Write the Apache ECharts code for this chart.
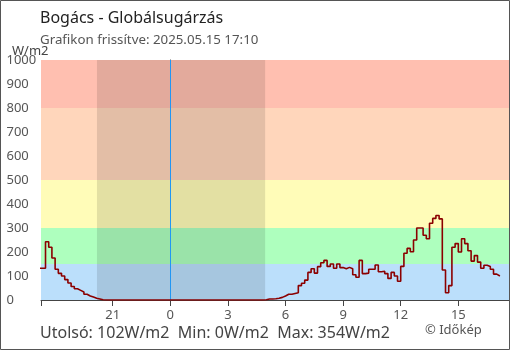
<!DOCTYPE html>
<html>
<head>
<meta charset="utf-8">
<script src="https://cdn.jsdelivr.net/npm/echarts@6/dist/echarts.min.js"></script>
<style>
html,body{margin:0;padding:0;background:#fff;}
#c{width:510px;height:350px;}
</style>
</head>
<body>
<div id="c"></div>
<script>
// ---- data (hours relative to midnight of 2025.05.15; first sample 17:10 previous day, 10-minute steps) ----
const startHour = -6 - 50 / 60;       // 17:10 on the previous day
const stepHours = 10 / 60;            // 10 minutes
const radiation = [
  132,132,243,220,175,128,111,100,85,71,
  56,47,40,33,24,17,12,7,4,1,
  0,0,0,0,0,0,0,0,0,0,
  0,0,0,0,0,0,0,0,0,0,
  0,0,0,0,0,0,0,0,0,0,
  0,0,0,0,0,0,0,0,0,0,
  0,0,0,0,0,0,0,0,0,0,
  1,4,4,5,7,11,17,24,24,27,
  30,60,70,83,115,130,112,139,155,165,
  140,150,132,150,135,130,136,130,105,95,
  165,110,112,128,128,146,118,120,110,90,
  115,100,78,140,195,215,201,250,300,300,
  270,255,320,340,352,338,125,30,60,220,
  235,200,255,235,205,162,185,158,132,145,
  140,128,108,100,102
];
const xTickHours = [-3, 0, 3, 6, 9, 12, 15];
const yTicks = [0, 100, 200, 300, 400, 500, 600, 700, 800, 900, 1000];
const bandLimits = [0, 150, 300, 500, 800, 1000];
const bandColors = ['#bbdffb', '#aeffbe', '#fffcb8', '#ffd6bb', '#ffbfb0'];
const sunset = -3.82;   // ~20:11
const sunrise = 4.94;   // ~04:56
const xMin = -6.735, xMax = 17.64;
const titleText = 'Bogács - Globálsugárzás';
const subText = 'Grafikon frissítve: 2025.05.15 17:10';
const unitText = 'W/m2';
const footerText = 'Utolsó: 102W/m2  Min: 0W/m2  Max: 354W/m2';
const creditText = '© Időkép';

const seriesData = radiation.map((v, i) => [startHour + i * stepHours, v]);
const FONT = '"Noto Sans", "Open Sans", sans-serif';

const chart = echarts.init(document.getElementById('c'), null, {renderer: 'canvas'});
const bands = [];
for (let i = 0; i < bandColors.length; i++) {
  bands.push([{xAxis: xMin, yAxis: bandLimits[i], itemStyle: {color: bandColors[i]}}, {xAxis: xMax, yAxis: bandLimits[i + 1]}]);
}
const tickValsX = [xMin].concat(xTickHours);
const axisCommonX = {
  type: 'value', min: xMin, max: xMax, splitLine: {show: false}
};
chart.setOption({
  animation: false,
  grid: {left: 41, right: 1, top: 60, bottom: 50, containLabel: false},
  xAxis: [
    Object.assign({}, axisCommonX, {
      axisLine: {lineStyle: {color: '#444', width: 1}},
      axisTick: {show: true, inside: false, length: 6, customValues: tickValsX, lineStyle: {color: '#444'}},
      axisLabel: {customValues: xTickHours, margin: 9, color: '#555', fontSize: 13, fontFamily: FONT,
        formatter: v => String((Math.round(v) + 24) % 24)}
    }),
    Object.assign({}, axisCommonX, {
      position: 'bottom',
      axisLine: {show: false},
      axisTick: {show: true, inside: true, length: 6, customValues: tickValsX, lineStyle: {color: '#444'}},
      axisLabel: {show: false}
    })
  ],
  yAxis: [
    {type: 'value', min: 0, max: 1000, interval: 100, splitLine: {show: false},
      axisLine: {show: true, lineStyle: {color: '#444'}},
      axisTick: {show: true, inside: false, length: 6, lineStyle: {color: '#444'}},
      axisLabel: {align: 'left', margin: 34.5, color: '#555', fontSize: 13, fontFamily: FONT,
        formatter: v => String(v)}
    },
    {type: 'value', min: 0, max: 1000, interval: 100, position: 'left', splitLine: {show: false},
      axisLine: {show: false},
      axisTick: {show: true, inside: true, length: 6, lineStyle: {color: '#444'}},
      axisLabel: {show: false}
    }
  ],
  series: [
    {type: 'line', data: [], z: 1, silent: true,
      markArea: {silent: true, data: bands}},
    {type: 'line', data: [], z: 2, silent: true,
      markArea: {silent: true, itemStyle: {color: 'rgba(0,0,0,0.11)'},
        data: [[{xAxis: sunset, yAxis: 0}, {xAxis: sunrise, yAxis: 1000}]]},
      markLine: {silent: true, symbol: 'none', label: {show: false},
        lineStyle: {color: '#2196f3', width: 1, type: 'solid'},
        data: [{xAxis: 0}]}},
    {type: 'line', name: 'Globálsugárzás', data: seriesData, step: 'end', z: 5,
      showSymbol: false, symbol: 'none',
      lineStyle: {color: '#8b0000', width: 1.6}}
  ],
  graphic: [
    {type: 'rect', z: 100, shape: {x: 0.5, y: 0.5, width: 509, height: 349},
      style: {fill: 'none', stroke: '#555', lineWidth: 1}},
    {type: 'text', z: 100, style: {x: 40, y: 18, text: titleText, font: '16px ' + FONT, fill: '#222', verticalAlign: 'middle'}},
    {type: 'text', z: 100, style: {x: 40, y: 40, text: subText, font: '13.3px ' + FONT, fill: '#555', verticalAlign: 'middle'}},
    {type: 'text', z: 100, style: {x: 12, y: 51, text: unitText, font: '13px ' + FONT, fill: '#444', verticalAlign: 'middle'}},
    {type: 'text', z: 100, style: {x: 40, y: 333, text: footerText, font: '16px ' + FONT, fill: '#444', verticalAlign: 'middle'}},
    {type: 'text', z: 100, style: {x: 425, y: 330, text: creditText, font: '13px ' + FONT, fill: '#555', verticalAlign: 'middle'}}
  ]
});
</script>
</body>
</html>
